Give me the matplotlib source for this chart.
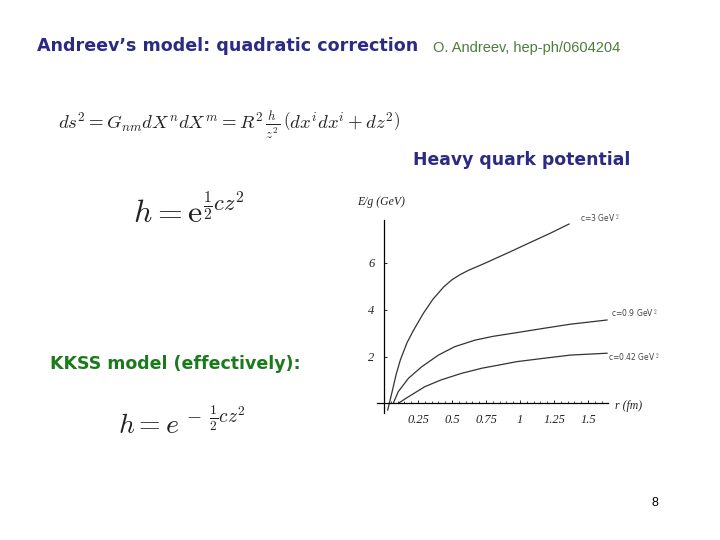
import matplotlib
matplotlib.use("Agg")
import matplotlib.pyplot as plt
from matplotlib.ticker import FixedLocator
import numpy as np

# ---- data ----
r_c3 = [0.027, 0.06, 0.09, 0.12, 0.17, 0.215, 0.29, 0.36, 0.44, 0.50, 0.56, 0.62,
        0.74, 0.85, 0.93, 1.07, 1.22, 1.36]
E_c3 = [-0.29, 0.5, 1.25, 1.85, 2.6, 3.1, 3.85, 4.45, 4.98, 5.28, 5.5, 5.68,
        5.98, 6.27, 6.48, 6.86, 7.26, 7.66]
r_c09 = [0.068, 0.105, 0.18, 0.277, 0.40, 0.52, 0.67, 0.80, 0.976, 1.17, 1.37, 1.64]
E_c09 = [0.0, 0.5, 1.07, 1.56, 2.06, 2.42, 2.7, 2.86, 3.02, 3.2, 3.38, 3.56]
r_c042 = [0.105, 0.18, 0.30, 0.42, 0.57, 0.72, 0.85, 0.976, 1.17, 1.37, 1.64]
E_c042 = [0.0, 0.28, 0.71, 1.0, 1.28, 1.5, 1.64, 1.78, 1.92, 2.06, 2.14]
curve_labels = ["c=3 GeV$^{\\ 2}$", "c=0.9 GeV$^{\\ 2}$", "c=0.42 GeV$^{\\ 2}$"]
x_ticks = [0.25, 0.5, 0.75, 1, 1.25, 1.5]
x_ticklabels = ["0.25", "0.5", "0.75", "1", "1.25", "1.5"]
y_ticks = [2, 4, 6]
y_ticklabels = ["2", "4", "6"]

W, H = 720, 540
fig = plt.figure(figsize=(7.2, 5.4), dpi=100)
fig.patch.set_facecolor("white")

NAVY = "#2B2B83"
GREEN_CITE = "#4A7F3A"
GREEN = "#1B7A1B"
EQ = "#222222"

def px(x, y):
    return x / W, 1 - y / H

# ---- slide texts ----
fig.text(*px(37, 46), "Andreev\u2019s model: quadratic correction", fontsize=12.6,
         fontweight="bold", color=NAVY, family="DejaVu Sans", va="center", ha="left")
fig.text(*px(433, 48), "O. Andreev, hep-ph/0604204", fontsize=10.5,
         color=GREEN_CITE, family="Liberation Sans", va="center", ha="left")
fig.text(*px(413, 160), "Heavy quark potential", fontsize=12.4,
         fontweight="bold", color=NAVY, family="DejaVu Sans", va="center", ha="left")
fig.text(*px(50, 364), "KKSS model (effectively):", fontsize=12.5,
         fontweight="bold", color=GREEN, family="DejaVu Sans", va="center", ha="left")
fig.text(*px(655, 503), "8", fontsize=9, color="black", family="Liberation Sans",
         va="center", ha="center")

plt.rcParams["mathtext.fontset"] = "cm"
fig.text(*px(58, 125), r"$ds^2=G_{nm}dX^n dX^m=R^2\,\frac{h}{z^2}\,\left(dx^i dx^i+dz^2\right)$",
         fontsize=13.5, color=EQ, va="center", ha="left")
fig.text(*px(133, 212), r"$h=\mathrm{e}^{\frac{1}{2}cz^2}$",
         fontsize=23, color=EQ, va="center", ha="left")
fig.text(*px(118, 424), r"$h=e^{\,-\;\frac{1}{2}cz^2}$",
         fontsize=20, color=EQ, va="center", ha="left")

# ---- plot axes ----
x0px, sx = 384, 136.0
y0px, sy = 403.3, 23.4
xmin, xmax = -0.1, 1.75
ymin, ymax = -0.7, 8.3
left = x0px + xmin * sx
right = x0px + xmax * sx
top = y0px - ymax * sy
bottom = y0px - ymin * sy
ax = fig.add_axes([left / W, 1 - bottom / H, (right - left) / W, (bottom - top) / H])
ax.set_xlim(xmin, xmax)
ax.set_ylim(ymin, ymax)
ax.patch.set_alpha(0)

lc = "#333333"
for rr, ee in [(r_c3, E_c3), (r_c09, E_c09), (r_c042, E_c042)]:
    ax.plot(rr, ee, color=lc, lw=0.9, solid_joinstyle="round")

for s in ["top", "right"]:
    ax.spines[s].set_visible(False)
ax.spines["left"].set_position(("data", 0))
ax.spines["bottom"].set_position(("data", 0))
ax.spines["left"].set_bounds(-0.4, 7.85)
ax.spines["bottom"].set_bounds(-0.05, 1.65)
ax.spines["left"].set_linewidth(0.9)
ax.spines["bottom"].set_linewidth(0.9)

tfont = dict(family="Liberation Serif", style="italic", size=9, color="#222222")
ax.set_xticks(x_ticks)
ax.set_xticklabels(x_ticklabels, **tfont)
ax.set_yticks(y_ticks)
ax.set_yticklabels(y_ticklabels, **tfont)
ax.xaxis.set_minor_locator(FixedLocator(np.arange(1, 33) * 0.05))
ax.tick_params(axis="x", which="major", direction="in", length=2.5, pad=8, width=0.6)
ax.tick_params(axis="x", which="minor", direction="in", length=1.5, width=0.5)
ax.tick_params(axis="y", direction="in", length=2, pad=7, width=0.6)

# curve labels
lab_font = dict(family="DejaVu Sans", size=5.5, color="#444444", va="center", ha="left")
ax.text(1.44, 7.9, curve_labels[0], **lab_font)
ax.text(1.67, 3.85, curve_labels[1], **lab_font)
ax.text(1.65, 1.95, curve_labels[2], **lab_font)

# axis titles
ax.text(-0.2, 8.6, "E/g (GeV)", family="Liberation Serif", style="italic", size=8.5,
        color="#222222", ha="left", va="center", clip_on=False)
ax.text(1.70, -0.1, "r (fm)", family="Liberation Serif", style="italic", size=8.5,
        color="#222222", ha="left", va="center", clip_on=False)

fig.savefig("out.png", dpi=100, facecolor="white")
